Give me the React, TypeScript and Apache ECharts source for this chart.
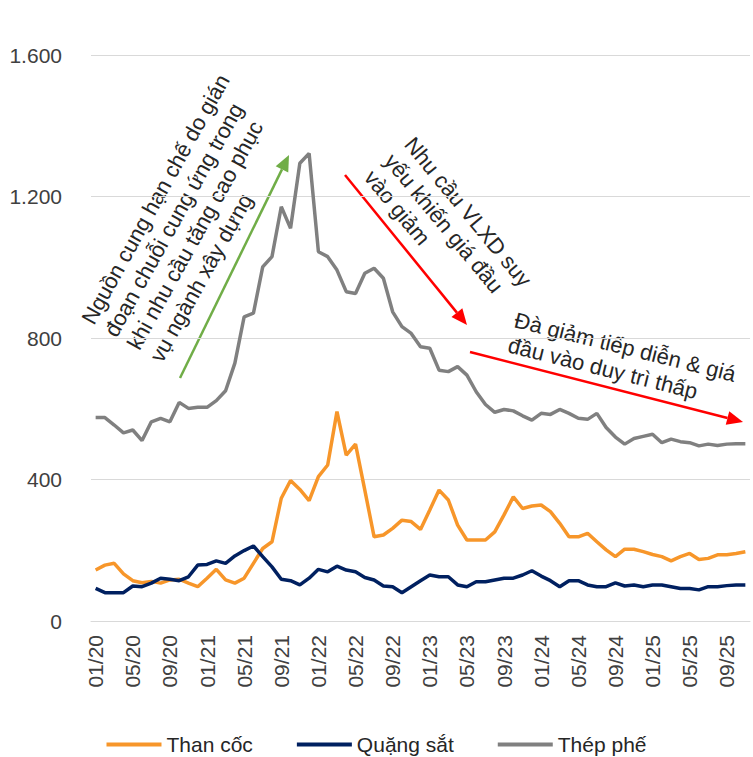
import React, { useEffect, useRef } from 'react';
import * as echarts from 'echarts';

const categories = [
  '01/20','02/20','03/20','04/20','05/20','06/20','07/20','08/20','09/20','10/20','11/20','12/20',
  '01/21','02/21','03/21','04/21','05/21','06/21','07/21','08/21','09/21','10/21','11/21','12/21',
  '01/22','02/22','03/22','04/22','05/22','06/22','07/22','08/22','09/22','10/22','11/22','12/22',
  '01/23','02/23','03/23','04/23','05/23','06/23','07/23','08/23','09/23','10/23','11/23','12/23',
  '01/24','02/24','03/24','04/24','05/24','06/24','07/24','08/24','09/24','10/24','11/24','12/24',
  '01/25','02/25','03/25','04/25','05/25','06/25','07/25','08/25','09/25','10/25','11/25',
];

const thanCoc = [
  144, 158, 163, 133, 114, 108, 112, 107, 116, 118, 107, 97,
  121, 146, 116, 107, 121, 163, 205, 224, 347, 397, 372, 340,
  408, 441, 592, 469, 500, 370, 238, 243, 262, 285, 281, 259,
  314, 370, 342, 271, 229, 229, 229, 252, 300, 351, 318, 325,
  328, 309, 276, 238, 238, 248, 224, 201, 182, 203, 203, 196,
  188, 182, 170, 182, 191, 174, 177, 187, 187, 191, 196,
];

const quangSat = [
  92, 80, 80, 80, 99, 97, 107, 121, 118, 114, 125, 158,
  160, 170, 163, 184, 199, 212, 182, 153, 118, 114, 102, 121,
  146, 139, 155, 144, 139, 123, 116, 99, 97, 80, 97, 114,
  130, 125, 125, 102, 97, 111, 111, 116, 121, 121, 130, 142,
  127, 114, 97, 114, 114, 102, 97, 97, 108, 99, 102, 97,
  102, 102, 97, 92, 92, 88, 97, 97, 100, 102, 102,
];

const thepPhe = [
  575, 575, 554, 532, 540, 510, 563, 573, 563, 618, 601, 604,
  604, 623, 651, 729, 860, 870, 1001, 1030, 1171, 1110, 1294, 1322,
  1044, 1030, 992, 931, 926, 983, 997, 969, 874, 832, 813, 775,
  771, 709, 705, 719, 695, 648, 612, 590, 598, 594, 580, 568,
  587, 584, 598, 587, 573, 570, 587, 547, 520, 500, 516, 522,
  528, 504, 514, 507, 504, 495, 500, 496, 500, 501, 501,
];

const seriesNames = ['Than cốc', 'Quặng sắt', 'Thép phế'];
const seriesColors = ['#F7962A', '#002060', '#808080'];

const yTicks = [0, 400, 800, 1200, 1600];
const yTickLabels = ['0', '400', '800', '1.200', '1.600'];

const note1 = 'Nguồn cung hạn chế do gián\nđoạn chuỗi cung ứng trong\nkhi nhu cầu tăng cao phục\nvụ ngành xây dựng';
const note2 = 'Nhu cầu VLXD suy\nyếu khiến giá đầu\nvào giảm';
const note3 = 'Đà giảm tiếp diễn & giá\nđầu vào duy trì thấp';

const FONT = '"Liberation Sans", Arial, sans-serif';
const TEXT_COLOR = '#404040';

function arrow(x1: number, y1: number, x2: number, y2: number, color: string) {
  const ang = Math.atan2(y2 - y1, x2 - x1);
  const hl = 16;
  const hw = 7;
  const bx = x2 - hl * Math.cos(ang);
  const by = y2 - hl * Math.sin(ang);
  const px = -Math.sin(ang);
  const py = Math.cos(ang);
  return [
    { type: 'line', shape: { x1, y1, x2: bx, y2: by }, style: { stroke: color, lineWidth: 2.5 } },
    {
      type: 'polygon',
      shape: { points: [[x2, y2], [bx + hw * px, by + hw * py], [bx - hw * px, by - hw * py]] },
      style: { fill: color },
    },
  ];
}

function note(text: string, x: number, y: number, deg: number) {
  return {
    type: 'text',
    x,
    y,
    rotation: (deg * Math.PI) / 180,
    style: {
      text,
      fill: '#262626',
      fontSize: 22,
      fontFamily: FONT,
      lineHeight: 26,
      align: 'left',
      verticalAlign: 'top',
    },
  };
}

export default function App() {
  const ref = useRef<HTMLDivElement>(null);

  useEffect(() => {
    if (!ref.current) return;
    const chart = echarts.init(ref.current, undefined, { renderer: 'svg' });
    const data = [thanCoc, quangSat, thepPhe];
    chart.setOption({
      animation: false,
      textStyle: { fontFamily: FONT },
      grid: { left: 91, right: 3, top: 55, bottom: 136, containLabel: false },
      legend: {
        data: seriesNames,
        left: 'center',
        top: 729,
        icon: 'rect',
        itemWidth: 55,
        itemHeight: 4,
        itemGap: 44,
        textStyle: { fontSize: 21, color: '#262626', fontFamily: FONT },
      },
      xAxis: {
        type: 'category',
        data: categories,
        boundaryGap: true,
        axisLine: { show: true, lineStyle: { color: '#D9D9D9', width: 1 } },
        axisTick: { show: false },
        axisLabel: {
          interval: 3,
          rotate: 90,
          margin: 14,
          fontSize: 21,
          color: TEXT_COLOR,
          fontFamily: FONT,
        },
        splitLine: { show: false },
      },
      yAxis: {
        type: 'value',
        min: 0,
        max: 1600,
        interval: 400,
        axisLine: { show: false },
        axisTick: { show: false },
        axisLabel: {
          margin: 29,
          fontSize: 21,
          color: TEXT_COLOR,
          fontFamily: FONT,
          formatter: (v: number) => yTickLabels[yTicks.indexOf(v)] ?? String(v),
        },
        splitLine: { show: true, lineStyle: { color: '#D9D9D9', width: 1 } },
      },
      series: seriesNames.map((name, i) => ({
        name,
        type: 'line',
        data: data[i],
        symbol: 'none',
        showSymbol: false,
        smooth: false,
        color: seriesColors[i],
        lineStyle: { color: seriesColors[i], width: 3.5 },
      })),
      graphic: [
        ...arrow(180, 378, 289, 155, '#70AD47'),
        ...arrow(345, 175, 467, 325, '#FF0000'),
        ...arrow(470, 352, 743, 422, '#FF0000'),
        note(note1, 76, 316, 61),
        note(note2, 419, 132, -50.5),
        note(note3, 518, 307, -14),
      ],
    });
    return () => chart.dispose();
  }, []);

  return (
    <div
      ref={ref}
      style={{ position: 'absolute', left: 0, top: 0, width: 753, height: 757, background: '#fff' }}
    />
  );
}
